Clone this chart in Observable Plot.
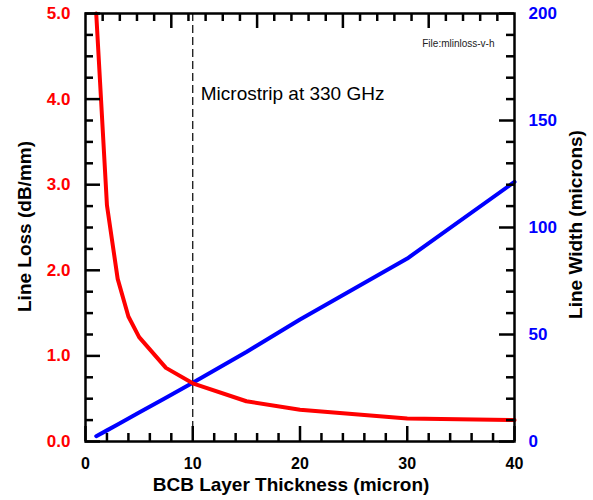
<!DOCTYPE html>
<html>
<head>
<meta charset="utf-8">
<script src="https://cdn.jsdelivr.net/npm/d3@7"></script>
<script src="https://cdn.jsdelivr.net/npm/@observablehq/plot@0.6"></script>
<style>
  body { margin: 0; background: white; }
  #chart svg { display: block; }
</style>
</head>
<body>
<div id="chart"></div>
<script>
// ---- data ----
const thickness = [1, 2, 3, 4, 5, 7.5, 10, 15, 20, 30, 40];          // BCB layer thickness (micron)
const lineLoss  = [5.0, 2.76, 1.90, 1.46, 1.22, 0.86, 0.68, 0.47, 0.37, 0.27, 0.25]; // dB/mm
const lineWidth = [2.5, 5.2, 8.0, 10.7, 13.5, 20.4, 27.4, 41.8, 57, 85.5, 121.3];   // microns

// ---- axes ----
const xTicks = [0, 10, 20, 30, 40];
const xMinorTicks = [2, 4, 6, 8, 12, 14, 16, 18, 22, 24, 26, 28, 32, 34, 36, 38];
const xTopTicks = [8, 16, 24, 32];
const xTopMinorTicks = [1.6, 3.2, 4.8, 6.4, 9.6, 11.2, 12.8, 14.4, 17.6, 19.2, 20.8, 22.4, 25.6, 27.2, 28.8, 30.4, 33.6, 35.2, 36.8, 38.4];
const lossTicks = [0, 1, 2, 3, 4, 5];
const lossMinorTicks = [0.25, 0.5, 0.75, 1.25, 1.5, 1.75, 2.25, 2.5, 2.75, 3.25, 3.5, 3.75, 4.25, 4.5, 4.75];
const widthTicks = [0, 50, 100, 150, 200];
const widthMinorTicks = [10, 20, 30, 40, 60, 70, 80, 90, 110, 120, 130, 140, 160, 170, 180, 190];

const xLabel = "BCB Layer Thickness (micron)";
const yLeftLabel = "Line Loss (dB/mm)";
const yRightLabel = "Line Width (microns)";
const annotation = "Microstrip at 330 GHz";
const fileNote = "File:mlinloss-v-h";
const markerX = [10];

const lossMax = 5, widthMax = 200;
const toLoss = w => w * lossMax / widthMax;

const lossData = thickness.map((t, i) => ({t, v: lineLoss[i]}));
const widthData = thickness.map((t, i) => ({t, v: lineWidth[i]}));

const W = 593, H = 500, mL = 85, mR = 79, mT = 13, mB = 59;
const pw = W - mL - mR, ph = H - mT - mB;
const tickW = 2.5, major = 15, minor = 8;
const font = "'Liberation Sans', Arial, Helvetica, sans-serif";

const chart = Plot.plot({
  width: W, height: H,
  marginLeft: mL, marginRight: mR, marginTop: mT, marginBottom: mB,
  style: {fontFamily: font, background: "white", overflow: "visible"},
  x: {domain: [0, 40], axis: null},
  y: {domain: [0, lossMax], axis: null},
  marks: [
    // marker line at 10 micron
    Plot.ruleX(markerX, {stroke: "black", strokeWidth: 1.2, strokeDasharray: "8,4"}),
    // data
    Plot.line(widthData, {x: "t", y: d => toLoss(d.v), stroke: "#0000ff", strokeWidth: 4}),
    Plot.line(lossData, {x: "t", y: "v", stroke: "#ff0000", strokeWidth: 4}),
    // inward ticks: bottom
    Plot.tickX(xTicks, {x: d => d, insetTop: ph - major, stroke: "black", strokeWidth: tickW}),
    Plot.tickX(xMinorTicks, {x: d => d, insetTop: ph - minor, stroke: "black", strokeWidth: tickW}),
    // top
    Plot.tickX(xTopTicks, {x: d => d, insetBottom: ph - major, stroke: "black", strokeWidth: tickW}),
    Plot.tickX(xTopMinorTicks, {x: d => d, insetBottom: ph - minor, stroke: "black", strokeWidth: tickW}),
    // left
    Plot.tickY(lossTicks, {y: d => d, insetRight: pw - major, stroke: "black", strokeWidth: tickW}),
    Plot.tickY(lossMinorTicks, {y: d => d, insetRight: pw - minor, stroke: "black", strokeWidth: tickW}),
    // right
    Plot.tickY(widthTicks, {y: d => toLoss(d), insetLeft: pw - major, stroke: "black", strokeWidth: tickW}),
    Plot.tickY(widthMinorTicks, {y: d => toLoss(d), insetLeft: pw - minor, stroke: "black", strokeWidth: tickW}),
    Plot.frame({stroke: "black", strokeWidth: 2.5}),
    // tick labels
    Plot.text(xTicks, {x: d => d, text: d => String(d), frameAnchor: "bottom", dy: 27,
      fontSize: 16, fontWeight: "bold", fill: "black"}),
    Plot.text(lossTicks, {y: d => d, text: d => d.toFixed(1), frameAnchor: "left", dx: -15,
      textAnchor: "end", fontSize: 17, fontWeight: "bold", fill: "#ff0000"}),
    Plot.text(widthTicks, {y: d => toLoss(d), text: d => String(d), frameAnchor: "right", dx: 14,
      textAnchor: "start", fontSize: 17, fontWeight: "bold", fill: "#0000ff"}),
    // axis titles
    Plot.text([xLabel], {text: d => d, frameAnchor: "bottom", dx: -9, dy: 49,
      fontSize: 19, fontWeight: "bold", fill: "black"}),
    Plot.text([yLeftLabel], {text: d => d, frameAnchor: "left", textAnchor: "middle", dx: -61, dy: -1, rotate: -90,
      fontSize: 19, fontWeight: "bold", fill: "black"}),
    Plot.text([yRightLabel], {text: d => d, frameAnchor: "right", textAnchor: "middle", dx: 61, dy: -3, rotate: -90,
      fontSize: 19, fontWeight: "bold", fill: "black"}),
    // annotations
    Plot.text([annotation], {x: markerX[0], y: 4.0, text: d => d, dx: 8, dy: -5, textAnchor: "start",
      fontSize: 19, fill: "black"}),
    Plot.text([fileNote], {text: d => d, frameAnchor: "top-right", dx: -20, dy: 26, textAnchor: "end",
      fontSize: 10, fill: "#222"})
  ]
});
document.getElementById("chart").appendChild(chart);
</script>
</body>
</html>
